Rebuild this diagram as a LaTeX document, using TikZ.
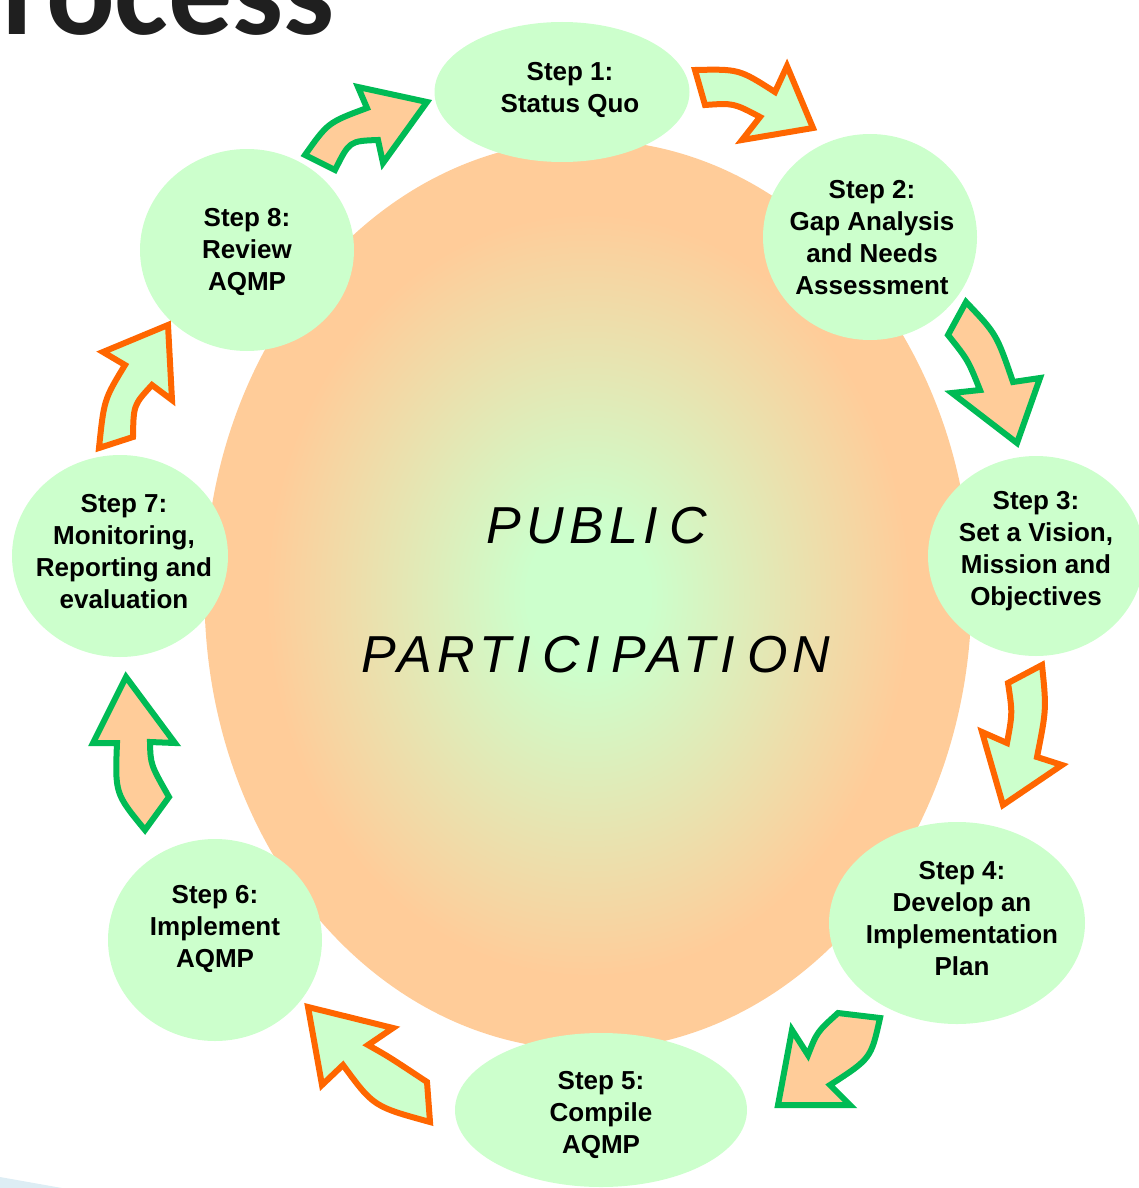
\documentclass[tikz,border=0pt]{standalone}
\usepackage{fontspec}
\setmainfont{Liberation Sans}
\newfontfamily\titlefont{Carlito}
\newfontfamily\ppfont[LetterSpace=10]{Liberation Sans}
\usetikzlibrary{shapes.geometric}
\definecolor{lgreen}{HTML}{CCFFCC}
\definecolor{peach}{HTML}{FFCC99}
\definecolor{arrorange}{HTML}{FF6600}
\definecolor{arrgreen}{HTML}{00BB55}
\definecolor{faintblue}{HTML}{DDEDF4}
\pgfdeclareradialshading{ppshade}{\pgfpoint{0bp}{0bp}}{color(0bp)=(lgreen); color(4bp)=(lgreen); color(21bp)=(peach); color(25bp)=(peach); color(50bp)=(peach)}
\tikzset{
  steptxt/.style={font=\bfseries\fontsize{26}{32}\selectfont, align=center, inner sep=0pt, text=black},
  stepell/.style={ellipse, fill=lgreen, draw=none, inner sep=0pt},
  arrgo/.style={fill=lgreen, draw=arrorange, line width=6pt, line join=miter},
  arrog/.style={fill=peach, draw=arrgreen, line width=6pt, line join=miter},
  pptxt/.style={font=\ppfont\itshape\fontsize{52}{60}\selectfont, inner sep=0pt, text=black}
}
\begin{document}
\begin{tikzpicture}[x=1pt,y=-1pt]
\useasboundingbox (0,0) rectangle (1139,1188);
% title fragment
\begin{scope}
\clip (0,0) rectangle (1139,1188);
\node[anchor=base west, inner sep=0pt, font=\titlefont\bfseries\fontsize{128}{130}\selectfont, text=black!88] (title) at (2,35) {rocess};
\fill[faintblue] (0,1177) -- (62,1188) -- (0,1188) -- cycle;
\end{scope}
% central ellipse
\node[ellipse, minimum width=767pt, minimum height=910pt, inner sep=0pt, shade, shading=ppshade] (pp) at (588,595) {};
\node[pptxt, anchor=base] (pub) at (597,543) {PUBLI\kern12pt C};
\node[pptxt, anchor=base] (part) at (596,672) {PARTI\kern12pt CI\kern12pt PATI\kern12pt ON};
% step ellipses
\node[stepell, minimum width=255pt, minimum height=140pt] (e1) at (562,92) {};
\node[stepell, minimum width=214pt, minimum height=206pt] (e2) at (870,237) {};
\node[stepell, minimum width=216pt, minimum height=200pt] (e3) at (1036,556) {};
\node[stepell, minimum width=256pt, minimum height=202pt] (e4) at (957,923) {};
\node[stepell, minimum width=292pt, minimum height=154pt] (e5) at (601,1110) {};
\node[stepell, minimum width=214pt, minimum height=202pt] (e6) at (215,940) {};
\node[stepell, minimum width=216pt, minimum height=202pt] (e7) at (120,556) {};
\node[stepell, minimum width=214pt, minimum height=202pt] (e8) at (247,250) {};
% step texts
\node[steptxt] (t1) at (570,90) {Step 1:\\Status Quo};
\node[steptxt] (t2) at (872,238) {Step 2:\\Gap Analysis\\and Needs\\Assessment};
\node[steptxt] (t3) at (1036,551) {Step 3:\\Set a Vision,\\Mission and\\Objectives};
\node[steptxt] (t4) at (962,919) {Step 4:\\Develop an\\Implementation\\Plan};
\node[steptxt] (t5) at (601,1115) {Step 5:\\Compile\\AQMP};
\node[steptxt] (t6) at (215,929) {Step 6:\\Implement\\AQMP};
\node[steptxt] (t7) at (124,552) {Step 7:\\Monitoring,\\Reporting and\\evaluation};
\node[steptxt] (t8) at (247,252) {Step 8:\\Review\\AQMP};
% arrows
% 1 -> 2
\draw[arrgo] (695,70) .. controls (739,69) .. (775,92) -- (787,66) -- (813,128) -- (742,140) -- (760,117) .. controls (733.5,103) .. (705,105) -- cycle;
% 2 -> 3
\draw[arrog] (966,302) .. controls (996.5,334) .. (1013,382) -- (1040,378) -- (1017,443) -- (952,393) -- (980,390) .. controls (968,360) .. (948,335) -- cycle;
% 3 -> 4
\draw[arrgo] (1042,665) .. controls (1046.5,709) .. (1037,757) -- (1062,765) -- (1003,805) -- (982,732) -- (1007,743) .. controls (1012.5,713) .. (1008,683) -- cycle;
% 4 -> 5
\draw[arrog] (880,1018) .. controls (871,1058.5) .. (830,1085) -- (850,1105) -- (778,1105) -- (792,1030) -- (808,1055) .. controls (817,1032) .. (838,1013) -- cycle;
% 5 -> 6
\draw[arrgo] (430,1122) .. controls (373.5,1106.5) .. (343,1065) -- (322,1085) -- (308,1007) -- (393,1028) -- (368,1045) .. controls (388.5,1056.5) .. (427,1082) -- cycle;
% 6 -> 7
\draw[arrog] (145,830) .. controls (115,793.5) .. (117,743) -- (93,743) -- (126,677) -- (175,743) -- (150,742) .. controls (150.5,764.5) .. (169,797) -- cycle;
% 7 -> 8
\draw[arrgo] (99,448) .. controls (104,399.5) .. (125,365) -- (103,352) -- (168,325) -- (172,400) -- (152,385) .. controls (133.5,405) .. (133,437) -- cycle;
% 8 -> 1
\draw[arrog] (305,155) .. controls (328,122.5) .. (367,108) -- (358,87) -- (427,102) -- (383,163) -- (378,140) .. controls (349.5,141) .. (335,170) -- cycle;
\end{tikzpicture}
\end{document}
